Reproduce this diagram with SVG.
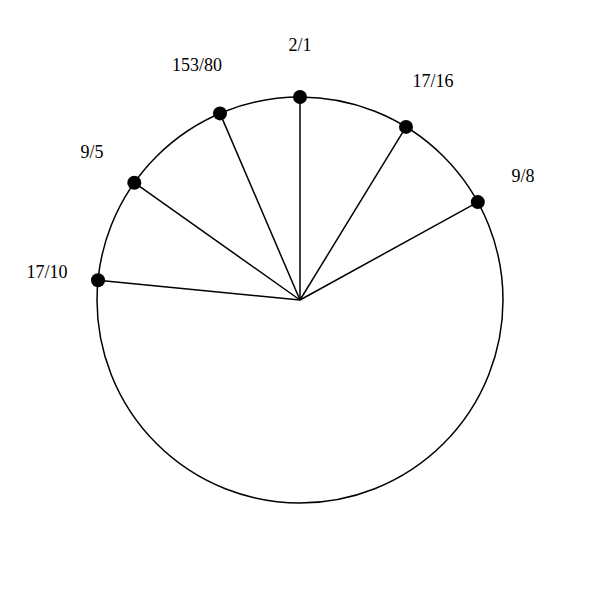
<svg xmlns="http://www.w3.org/2000/svg" width="600" height="600" viewBox="0 0 600 600">
<style>
.ring{fill:none;stroke:#000;stroke-width:1.5}
.spoke{stroke:#000;stroke-width:1.5}
.dot{fill:#000}
.lbl{font-family:"Liberation Serif","Times New Roman",serif;font-size:18px;fill:#000;text-anchor:middle}
</style>
<rect width="600" height="600" fill="#fff"/>
<circle id="ring" class="ring" cx="300" cy="300" r="203"/>
<g id="connectors">
<line class="spoke" x1="300" y1="300" x2="300" y2="97"/>
<line class="spoke" x1="300" y1="300" x2="406" y2="126.9"/>
<line class="spoke" x1="300" y1="300" x2="477.8" y2="202.1"/>
<line class="spoke" x1="300" y1="300" x2="220" y2="113.4"/>
<line class="spoke" x1="300" y1="300" x2="134.3" y2="182.7"/>
<line class="spoke" x1="300" y1="300" x2="98" y2="280.2"/>
</g>
<g id="n-2-1"><circle class="dot" cx="300" cy="97" r="7"/><text class="lbl" x="300" y="51">2/1</text></g>
<g id="n-17-16"><circle class="dot" cx="406" cy="126.9" r="7"/><text class="lbl" x="433" y="87">17/16</text></g>
<g id="n-9-8"><circle class="dot" cx="477.8" cy="202.1" r="7"/><text class="lbl" x="523" y="182">9/8</text></g>
<g id="n-153-80"><circle class="dot" cx="220" cy="113.4" r="7"/><text class="lbl" x="197" y="71">153/80</text></g>
<g id="n-9-5"><circle class="dot" cx="134.3" cy="182.7" r="7"/><text class="lbl" x="92" y="158">9/5</text></g>
<g id="n-17-10"><circle class="dot" cx="98" cy="280.2" r="7"/><text class="lbl" x="47" y="278">17/10</text></g>
</svg>
